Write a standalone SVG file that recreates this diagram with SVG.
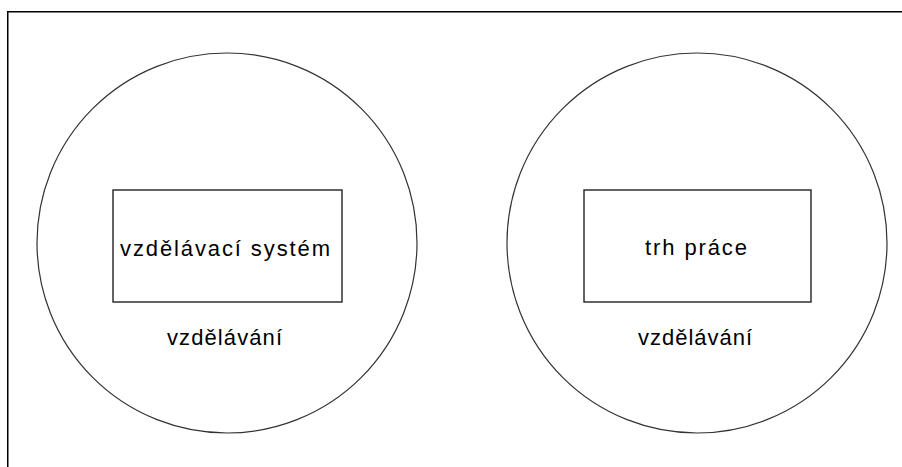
<svg xmlns="http://www.w3.org/2000/svg" width="902" height="467" viewBox="0 0 902 467">
  <style>
    .frame { fill: none; stroke: #000; stroke-width: 1.5; }
    .circle { fill: none; stroke: #333; stroke-width: 1.2; }
    .box { fill: #fff; stroke: #222; stroke-width: 1.4; }
    .label { font-family: "Liberation Sans", Arial, sans-serif; font-size: 22px; fill: #000; text-anchor: middle; }
  </style>
  <rect width="902" height="467" fill="#fff"/>
  <rect class="frame" x="7.75" y="11.75" width="910" height="470"/>
  <g id="left">
    <circle class="circle" cx="227" cy="243" r="190"/>
    <g id="vzdelavaci-system">
      <rect class="box" x="113" y="190" width="229" height="112"/>
      <text class="label" x="225" y="256" textLength="210" lengthAdjust="spacing">vzdělávací systém</text>
    </g>
    <text class="label" x="224.5" y="345" textLength="115" lengthAdjust="spacing">vzdělávání</text>
  </g>
  <g id="right">
    <circle class="circle" cx="697" cy="243" r="190"/>
    <g id="trh-prace">
      <rect class="box" x="584" y="190" width="227" height="112"/>
      <text class="label" x="696" y="255" textLength="102" lengthAdjust="spacing">trh práce</text>
    </g>
    <text class="label" x="695" y="345" textLength="114" lengthAdjust="spacing">vzdělávání</text>
  </g>
  <g id="connectors"/>
</svg>
